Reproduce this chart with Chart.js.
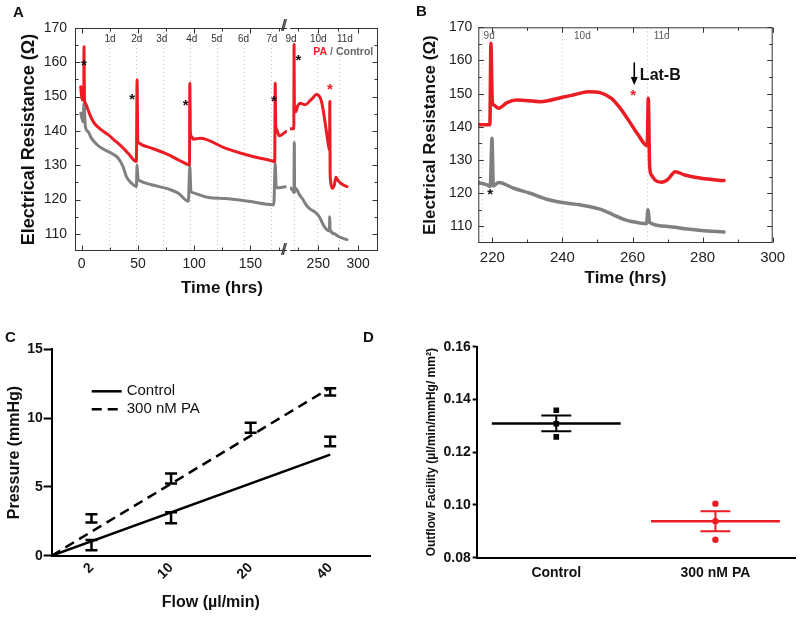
<!DOCTYPE html>
<html>
<head>
<meta charset="utf-8">
<title>Electrical resistance and outflow facility</title>
<script src="https://cdn.jsdelivr.net/npm/chart.js@4.4.1/dist/chart.umd.min.js"></script>
<style>
  body { margin: 0; background: #fff; }
  #fig { position: relative; width: 800px; height: 620px; font-family: "Liberation Sans", Arial, sans-serif; color: #111; }
  #fig canvas { position: absolute; }
  .tag { position: absolute; font-weight: bold; font-size: 15px; line-height: 15px; }
  .xt { position: absolute; font-weight: bold; font-size: 17px; line-height: 17px; }
  .brk { position: absolute; font-size: 16px; line-height: 16px; color: #333; letter-spacing: -3px; }
</style>
</head>
<body>
<div id="fig">
  <canvas id="chartA1" width="292" height="300" style="left:0;top:0"></canvas>
  <canvas id="chartA2" width="120" height="300" style="left:280px;top:0"></canvas>
  <canvas id="chartB" width="400" height="300" style="left:400px;top:0"></canvas>
  <canvas id="chartC" width="390" height="310" style="left:0;top:310px"></canvas>
  <canvas id="chartD" width="400" height="310" style="left:400px;top:310px"></canvas>
  <div class="tag" style="left:13px;top:4px">A</div>
  <div class="tag" style="left:416px;top:3px">B</div>
  <div class="tag" style="left:5px;top:329px">C</div>
  <div class="tag" style="left:363px;top:329px">D</div>
  <div class="xt" style="left:181px;top:279px">Time (hrs)</div>
  <div class="brk" style="left:281px;top:18px">//</div>
  <div class="brk" style="left:281px;top:242px">//</div>
</div>
<script>
// panel A, days 0-7 (left of the axis break)
const hoursPaA1 = [-0.9, 0.3, 1.8, 2.0, 2.4, 3.2, 5.6, 8.6, 11.5, 17.5, 23.4, 29.4, 35.3, 41.2, 48.6, 49.2, 49.8, 50.5, 53.1, 62, 76.8, 85.7, 94.8, 95.8, 96.1, 96.6, 97.5, 99.3, 105.2, 127.5, 151.2, 170.8, 171.6, 172, 172.5, 173.5, 175.5, 177.9, 181.5];
const paA1 = [152.9, 149.0, 150, 164.5, 149.5, 148.1, 146.1, 143.7, 142.1, 140.3, 138.9, 137.2, 135.5, 133.5, 131.1, 154.9, 137.5, 136.6, 136, 135, 133.1, 131.6, 130.1, 130, 153.9, 139.5, 138.4, 137.6, 137.9, 135, 132.6, 131.1, 131, 153.9, 141.5, 140.3, 138.6, 138.9, 139.8];
const hoursCtrlA1 = [-0.9, 1.2, 2.0, 3.2, 5.6, 8.6, 13, 17.5, 26.4, 32.3, 36.7, 39.7, 44.2, 48.6, 49.2, 50.0, 50.7, 62, 76.8, 85.7, 94.8, 96.1, 97.0, 97.9, 112.6, 127.5, 148.2, 170.8, 172, 172.8, 173.5, 180.9];
const ctrlA1 = [145.2, 142.7, 148.1, 141.3, 139.8, 137.9, 136.2, 135, 133.5, 132.1, 129.6, 126.7, 124.8, 123.8, 130.1, 126, 125.6, 124.3, 123.1, 121.9, 119.5, 129.6, 122.5, 122.1, 120.6, 120.3, 119.5, 118.5, 130.6, 124, 123.4, 123.7];

// days 9-11: right of the break in A, and all of B
const hoursPa9 = [214.8, 219.3, 219.6, 220.0, 220.4, 221.8, 224.2, 227, 233.7, 240, 243.1, 247.4, 250.7, 254, 256.2, 258.8, 261.6, 264.2, 264.5, 264.9, 265.4, 266.4, 268.2, 270.1, 272.2, 274.9, 279.6, 286.1];
const pa9 = [140.6, 140.6, 165.2, 147.5, 146.6, 145.6, 147.3, 148.1, 147.6, 148.9, 149.6, 150.6, 150.3, 148.6, 146, 142.1, 137.6, 134.3, 148.6, 128, 125.5, 124, 123.3, 124.2, 126.5, 125.5, 124.5, 123.8];
const hoursCtrl9 = [214.8, 218.5, 219.4, 219.9, 220.3, 221.8, 226.1, 230.8, 235.5, 240, 245, 250.7, 254.5, 257.3, 259.7, 264, 264.4, 264.9, 270.1, 274.9, 279.6, 286.1];
const ctrl9 = [123.4, 122.5, 122, 136.6, 122.2, 123.2, 121.5, 120, 118.2, 117.2, 116.5, 115.2, 113.5, 112.2, 111.5, 110.8, 115, 111.2, 110, 109.3, 108.8, 108.3];

// ticks
const resTicks = [110, 120, 130, 140, 150, 160, 170];
const resMinor = [115, 125, 135, 145, 155, 165];
const hrTicksA1 = [0, 50, 100, 150];
const hrMinorA1 = [25, 75, 125, 175];
const hrTicksA2 = [250, 300];
const hrMinorA2 = [225, 275];
const hrTicksB = [220, 240, 260, 280, 300];
const hrMinorB = [230, 250, 270, 290];

// day markers and annotations
const dayNamesA1 = ['1d', '2d', '3d', '4d', '5d', '6d', '7d'];
const dayLabelHrsA1 = [25.2, 48.9, 71.1, 97.8, 120.1, 143.8, 169];
const dayLinesA1 = [24, 48, 72, 96, 120, 144, 168];
const dayNames9 = ['9d', '10d', '11d'];
const dayLabelHrsA2 = [215.9, 250, 283.4];
const dayLinesA2 = [219, 248, 276];
const dayLabelHrsB = [219.1, 245.7, 268.3];
const dayLinesB = [217, 240, 264];
const starHrsA1 = [2.0, 44.8, 92.5, 170.8];
const starResA1 = [159.9, 150, 148.1, 149.3];
const starHrsA2 = [225];
const starResA2 = [161.2];
const latBStarA2 = [264.6, 152.9];
const starB = [219.4, 120.5];
const latBStarB = [260.2, 150.3];
const latBArrow = [260.5, 159.4, 152.6];

// panel C
const flowLabels = ['2', '10', '20', '40'];
const flowIdx = [0, 1, 2, 3];
const ctrlPressure = [0.77, 2.75, null, 8.3];
const ctrlSem = [0.37, 0.4, null, 0.35];
const paPressure = [2.72, 5.61, 9.3, 11.91];
const paSem = [0.3, 0.36, 0.37, 0.26];
const fitX = [-0.5, 3];
const ctrlFit = [0, 7.35];
const paFit = [0, 12.2];

// panel D
const groups = ['Control', '300 nM PA'];
const ctrlFacility = [0.1359, 0.1308, 0.1258];
const paFacility = [0.1005, 0.0938, 0.0868];
const facMean = [0.1309, 0.0938];
const facSem = [0.0030, 0.0038];

const RED = '#ec1c24';
const GRAY = '#808080';
const FONT = '"Liberation Sans", Arial, sans-serif';
Chart.defaults.font.family = FONT;
Chart.defaults.color = '#222';

const pts = (xs, ys) => xs.map((x, i) => ({ x, y: ys[i] }));
const lo = (m, s) => m.map((v, i) => v == null ? null : v - s[i]);
const hi = (m, s) => m.map((v, i) => v == null ? null : v + s[i]);

const figMarks = {
  id: 'figMarks',
  beforeDatasetsDraw(chart, args, o) {
    if (!o.dayLines) return;
    const { ctx, chartArea: a, scales: { x } } = chart;
    ctx.save();
    ctx.strokeStyle = '#c4c4c4';
    ctx.lineWidth = 1;
    ctx.setLineDash([1, 3]);
    o.dayLines.forEach(t => {
      const px = Math.round(x.getPixelForValue(t)) + 0.5;
      ctx.beginPath();
      ctx.moveTo(px, a.top);
      ctx.lineTo(px, a.bottom);
      ctx.stroke();
    });
    ctx.restore();
  },
  afterDatasetsDraw(chart, args, o) {
    const { ctx, chartArea: a, scales: { x, y } } = chart;
    ctx.save();

    (o.errorBars || []).forEach(e => {
      ctx.strokeStyle = e.color;
      ctx.lineWidth = e.width;
      ctx.beginPath();
      e.xs.forEach((xv, i) => {
        if (e.lo[i] == null) return;
        const px = x.getPixelForValue(xv);
        const p1 = y.getPixelForValue(e.lo[i]);
        const p2 = y.getPixelForValue(e.hi[i]);
        ctx.moveTo(px, p1); ctx.lineTo(px, p2);
        ctx.moveTo(px - e.cap, p1); ctx.lineTo(px + e.cap, p1);
        ctx.moveTo(px - e.cap, p2); ctx.lineTo(px + e.cap, p2);
      });
      ctx.stroke();
    });

    if (o.frame) {
      const f = o.frame;
      const L = a.left + 0.5, R = a.right - 0.5, T = a.top + 0.5, B = a.bottom - 0.5;
      ctx.strokeStyle = '#333';
      ctx.lineWidth = 1;
      ctx.beginPath();
      if (f.sides.includes('l')) { ctx.moveTo(L, a.top); ctx.lineTo(L, a.bottom); }
      if (f.sides.includes('r')) { ctx.moveTo(R, a.top); ctx.lineTo(R, a.bottom); }
      if (f.sides.includes('t')) { ctx.moveTo(a.left, T); ctx.lineTo(a.right, T); }
      if (f.sides.includes('b')) { ctx.moveTo(a.left, B); ctx.lineTo(a.right, B); }
      const vert = (vals, len) => vals.forEach(v => {
        const px = Math.round(x.getPixelForValue(v)) + 0.5;
        ctx.moveTo(px, B); ctx.lineTo(px, B - len);
        ctx.moveTo(px, T); ctx.lineTo(px, T + len);
      });
      const horiz = (vals, len) => vals.forEach(v => {
        const py = Math.round(y.getPixelForValue(v)) + 0.5;
        if (f.sides.includes('l')) { ctx.moveTo(L, py); ctx.lineTo(L + len, py); }
        if (f.sides.includes('r')) { ctx.moveTo(R, py); ctx.lineTo(R - len, py); }
      });
      vert(f.xMajor, 5); vert(f.xMinor, 3);
      horiz(f.yMajor, 5); horiz(f.yMinor, 3);
      ctx.stroke();
    }

    (o.texts || []).forEach(s => {
      ctx.font = s.font;
      ctx.textBaseline = 'middle';
      s.xs.forEach((t, i) => {
        let px = x.getPixelForValue(t);
        const py = y.getPixelForValue(s.vs[i]) + (s.dy || 0);
        const runs = s.runs || [[s.labels[i], s.color]];
        ctx.textAlign = s.runs ? 'left' : (s.align || 'center');
        runs.forEach(([txt, col]) => {
          ctx.fillStyle = col;
          ctx.fillText(txt, px, py);
          px += ctx.measureText(txt).width;
        });
      });
    });

    if (o.arrow) {
      const [t, v1, v2] = o.arrow;
      const px = x.getPixelForValue(t);
      const y1 = y.getPixelForValue(v1), y2 = y.getPixelForValue(v2);
      ctx.strokeStyle = '#000';
      ctx.fillStyle = '#000';
      ctx.lineWidth = 1.6;
      ctx.beginPath();
      ctx.moveTo(px, y1); ctx.lineTo(px, y2 - 6);
      ctx.stroke();
      ctx.beginPath();
      ctx.moveTo(px - 3.5, y2 - 8); ctx.lineTo(px + 3.5, y2 - 8); ctx.lineTo(px, y2);
      ctx.closePath();
      ctx.fill();
    }

    if (o.legend) {
      const g = o.legend;
      chart.data.datasets.forEach((d, i) => {
        if (!d.label) return;
        const yy = a.top + g.dy + i * g.gap;
        ctx.strokeStyle = d.borderColor;
        ctx.lineWidth = d.borderWidth;
        ctx.setLineDash(d.borderDash || []);
        ctx.beginPath();
        ctx.moveTo(a.left + g.dx, yy); ctx.lineTo(a.left + g.dx + g.len, yy);
        ctx.stroke();
        ctx.setLineDash([]);
        ctx.fillStyle = '#111';
        ctx.font = g.font;
        ctx.textAlign = 'left';
        ctx.textBaseline = 'middle';
        ctx.fillText(d.label, a.left + g.dx + g.len + 5, yy);
      });
    }
    ctx.restore();
  }
};

const traceStyle = (color, width) => ({
  borderColor: color, borderWidth: width, pointRadius: 0,
  cubicInterpolationMode: 'monotone', borderJoinStyle: 'round', borderCapStyle: 'round'
});
const tickSet = vals => s => { s.ticks = vals.map(v => ({ value: v })); };

const dayFont = '10px ' + FONT;
const starFont = 'bold 15px ' + FONT;

// ---- A, left of the break
new Chart(document.getElementById('chartA1'), {
  type: 'line',
  data: { datasets: [
    { label: 'PA', data: pts(hoursPaA1, paA1), ...traceStyle(RED, 3) },
    { label: 'Control', data: pts(hoursCtrlA1, ctrlA1), ...traceStyle(GRAY, 3) }
  ] },
  options: {
    responsive: false, animation: false,
    layout: { padding: { left: 14, right: 5, top: 28, bottom: 0 } },
    plugins: {
      legend: { display: false }, tooltip: { enabled: false },
      figMarks: {
        dayLines: dayLinesA1,
        frame: { sides: 'ltb', xMajor: hrTicksA1, xMinor: hrMinorA1, yMajor: resTicks, yMinor: resMinor },
        texts: [
          { xs: dayLabelHrsA1, vs: dayLabelHrsA1.map(() => 166.8), labels: dayNamesA1, font: dayFont, color: '#333' },
          { xs: starHrsA1, vs: starResA1, labels: starHrsA1.map(() => '*'), font: starFont, color: '#111', dy: 3 }
        ]
      }
    },
    scales: {
      x: {
        type: 'linear', min: -6, max: 182.5,
        afterBuildTicks: tickSet(hrTicksA1), afterFit: s => { s.height = 49; },
        grid: { display: false, tickLength: 2 }, border: { display: false },
        ticks: { font: { size: 14 }, padding: 3, maxRotation: 0 }
      },
      y: {
        min: 105, max: 170,
        afterBuildTicks: tickSet(resTicks), afterFit: s => { s.width = 61; },
        grid: { display: false, tickLength: 4 }, border: { display: false },
        ticks: { font: { size: 14 }, padding: 4 },
        title: { display: true, text: 'Electrical Resistance (Ω)', font: { size: 18, weight: 'bold' }, color: '#111', padding: { top: 4, bottom: 0 } }
      }
    }
  },
  plugins: [figMarks]
});

// ---- A, right of the break (same records as B)
new Chart(document.getElementById('chartA2'), {
  type: 'line',
  data: { datasets: [
    { label: 'PA', data: pts(hoursPa9, pa9), ...traceStyle(RED, 3) },
    { label: 'Control', data: pts(hoursCtrl9, ctrl9), ...traceStyle(GRAY, 3) }
  ] },
  options: {
    responsive: false, animation: false,
    layout: { padding: { left: 10, right: 22, top: 28, bottom: 0 } },
    plugins: {
      legend: { display: false }, tooltip: { enabled: false },
      figMarks: {
        dayLines: dayLinesA2,
        frame: { sides: 'rtb', xMajor: hrTicksA2, xMinor: hrMinorA2, yMajor: resTicks, yMinor: resMinor },
        texts: [
          { xs: dayLabelHrsA2, vs: dayLabelHrsA2.map(() => 166.8), labels: dayNames9, font: dayFont, color: '#333' },
          { xs: starHrsA2, vs: starResA2, labels: ['*'], font: starFont, color: '#111', dy: 3 },
          { xs: [latBStarA2[0]], vs: [latBStarA2[1]], labels: ['*'], font: starFont, color: RED, dy: 3 },
          { xs: [243.8], vs: [162.9], runs: [['PA', RED], [' / Control', '#666']], font: 'bold 10.5px ' + FONT }
        ]
      }
    },
    scales: {
      x: {
        type: 'linear', min: 214.5, max: 325,
        afterBuildTicks: tickSet(hrTicksA2), afterFit: s => { s.height = 49; },
        grid: { display: false, tickLength: 2 }, border: { display: false },
        ticks: { font: { size: 14 }, padding: 3, maxRotation: 0 }
      },
      y: { display: false, min: 105, max: 170 }
    }
  },
  plugins: [figMarks]
});

// ---- B
new Chart(document.getElementById('chartB'), {
  type: 'line',
  data: { datasets: [
    { label: 'PA', data: pts(hoursPa9, pa9), ...traceStyle(RED, 3.5) },
    { label: 'Control', data: pts(hoursCtrl9, ctrl9), ...traceStyle(GRAY, 3.5) }
  ] },
  options: {
    responsive: false, animation: false,
    layout: { padding: { left: 15, right: 27.3, top: 27.3, bottom: 0 } },
    plugins: {
      legend: { display: false }, tooltip: { enabled: false },
      figMarks: {
        dayLines: dayLinesB,
        frame: { sides: 'lrtb', xMajor: hrTicksB, xMinor: hrMinorB, yMajor: resTicks, yMinor: resMinor },
        arrow: latBArrow,
        texts: [
          { xs: dayLabelHrsB, vs: dayLabelHrsB.map(() => 167.2), labels: dayNames9, font: dayFont, color: '#555' },
          { xs: [starB[0]], vs: [starB[1]], labels: ['*'], font: starFont, color: '#111', dy: 3 },
          { xs: [latBStarB[0]], vs: [latBStarB[1]], labels: ['*'], font: starFont, color: RED, dy: 3 },
          { xs: [262.1], vs: [155.3], labels: ['Lat-B'], font: 'bold 16px ' + FONT, color: '#111', align: 'left' }
        ]
      }
    },
    scales: {
      x: {
        type: 'linear', min: 216, max: 300,
        afterBuildTicks: tickSet(hrTicksB), afterFit: s => { s.height = 57; },
        grid: { display: false, tickLength: 2 }, border: { display: false },
        ticks: { font: { size: 15 }, padding: 4, maxRotation: 0 },
        title: { display: true, text: 'Time (hrs)', font: { size: 17, weight: 'bold' }, color: '#111', padding: { top: 0, bottom: 11.5 } }
      },
      y: {
        min: 105, max: 170,
        afterBuildTicks: tickSet(resTicks), afterFit: s => { s.width = 63.3; },
        grid: { display: false, tickLength: 2 }, border: { display: false },
        ticks: { font: { size: 14 }, padding: 4 },
        title: { display: true, text: 'Electrical Resistance (Ω)', font: { size: 17, weight: 'bold' }, color: '#111', padding: { top: 5, bottom: 0 } }
      }
    }
  },
  plugins: [figMarks]
});

// ---- C
new Chart(document.getElementById('chartC'), {
  type: 'scatter',
  data: { datasets: [
    { label: 'Control', data: pts(fitX, ctrlFit), showLine: true, borderColor: '#000', borderWidth: 2.5, pointRadius: 0 },
    { label: '300 nM PA', data: pts(fitX, paFit), showLine: true, borderColor: '#000', borderWidth: 2.5, borderDash: [10, 6], pointRadius: 0 }
  ] },
  options: {
    responsive: false, animation: false,
    layout: { padding: { left: 2, right: 20, top: 39.3, bottom: 0 } },
    plugins: {
      legend: { display: false }, tooltip: { enabled: false },
      figMarks: {
        errorBars: [
          { xs: flowIdx, lo: lo(ctrlPressure, ctrlSem), hi: hi(ctrlPressure, ctrlSem), cap: 6, width: 2.5, color: '#000' },
          { xs: flowIdx, lo: lo(paPressure, paSem), hi: hi(paPressure, paSem), cap: 6, width: 2.5, color: '#000' }
        ],
        legend: { dx: 40, dy: 42, gap: 18, len: 30, font: '15px ' + FONT }
      }
    },
    scales: {
      x: {
        type: 'linear', min: -0.5, max: 3.5,
        afterBuildTicks: tickSet(flowIdx), afterFit: s => { s.height = 64.3; },
        grid: { display: false, drawTicks: false }, border: { display: true, color: '#000', width: 2 },
        ticks: { font: { size: 14, weight: 'bold' }, color: '#111', padding: 4, minRotation: 45, maxRotation: 45, callback: v => flowLabels[v] },
        title: { display: true, text: 'Flow (µl/min)', font: { size: 16, weight: 'bold' }, color: '#111', padding: { top: 0, bottom: 7.4 } }
      },
      y: {
        min: 0, max: 15,
        afterBuildTicks: tickSet([0, 5, 10, 15]), afterFit: s => { s.width = 49.7; },
        grid: { drawOnChartArea: false, tickLength: 8, tickWidth: 2, tickColor: '#000' }, border: { display: true, color: '#000', width: 2 },
        ticks: { font: { size: 14, weight: 'bold' }, color: '#111', padding: 1 },
        title: { display: true, text: 'Pressure (mmHg)', font: { size: 16, weight: 'bold' }, color: '#111', padding: { top: 3.4, bottom: 0 } }
      }
    }
  },
  plugins: [figMarks]
});

// ---- D
const MEAN_HALF = 0.405;
new Chart(document.getElementById('chartD'), {
  type: 'scatter',
  data: { datasets: [
    { data: ctrlFacility.map(v => ({ x: 0, y: v })), pointStyle: 'rect', pointRadius: 4, backgroundColor: '#000', borderColor: '#000', borderWidth: 0 },
    { data: paFacility.map(v => ({ x: 1, y: v })), pointStyle: 'circle', pointRadius: 3.2, backgroundColor: RED, borderColor: RED, borderWidth: 0 },
    { data: [{ x: -MEAN_HALF, y: facMean[0] }, { x: MEAN_HALF, y: facMean[0] }], showLine: true, borderColor: '#000', borderWidth: 2.5, pointRadius: 0 },
    { data: [{ x: 1 - MEAN_HALF, y: facMean[1] }, { x: 1 + MEAN_HALF, y: facMean[1] }], showLine: true, borderColor: RED, borderWidth: 2.5, pointRadius: 0 }
  ] },
  options: {
    responsive: false, animation: false,
    layout: { padding: { left: 20, right: 5, top: 36.7, bottom: 0 } },
    plugins: {
      legend: { display: false }, tooltip: { enabled: false },
      figMarks: {
        errorBars: [
          { xs: [0], lo: [facMean[0] - facSem[0]], hi: [facMean[0] + facSem[0]], cap: 15, width: 2, color: '#000' },
          { xs: [1], lo: [facMean[1] - facSem[1]], hi: [facMean[1] + facSem[1]], cap: 15, width: 2, color: RED }
        ]
      }
    },
    scales: {
      x: {
        type: 'linear', min: -0.5, max: 1.5,
        afterBuildTicks: tickSet([0, 1]), afterFit: s => { s.height = 62.3; },
        grid: { display: false, tickLength: 4 }, border: { display: true, color: '#000', width: 2 },
        ticks: { font: { size: 14, weight: 'bold' }, color: '#111', padding: 3, maxRotation: 0, callback: v => groups[v] }
      },
      y: {
        min: 0.08, max: 0.16,
        afterBuildTicks: tickSet([0.08, 0.10, 0.12, 0.14, 0.16]), afterFit: s => { s.width = 56.7; },
        grid: { drawOnChartArea: false, tickLength: 4, tickWidth: 2, tickColor: '#000' }, border: { display: true, color: '#000', width: 2 },
        ticks: { font: { size: 14, weight: 'bold' }, color: '#111', padding: 2, callback: v => v.toFixed(2) },
        title: { display: true, text: 'Outflow Facility (µl/min/mmHg/ mm²)', font: { size: 12, weight: 'bold' }, color: '#111', padding: { top: 4.5, bottom: 0 } }
      }
    }
  },
  plugins: [figMarks]
});
</script>
</body>
</html>
